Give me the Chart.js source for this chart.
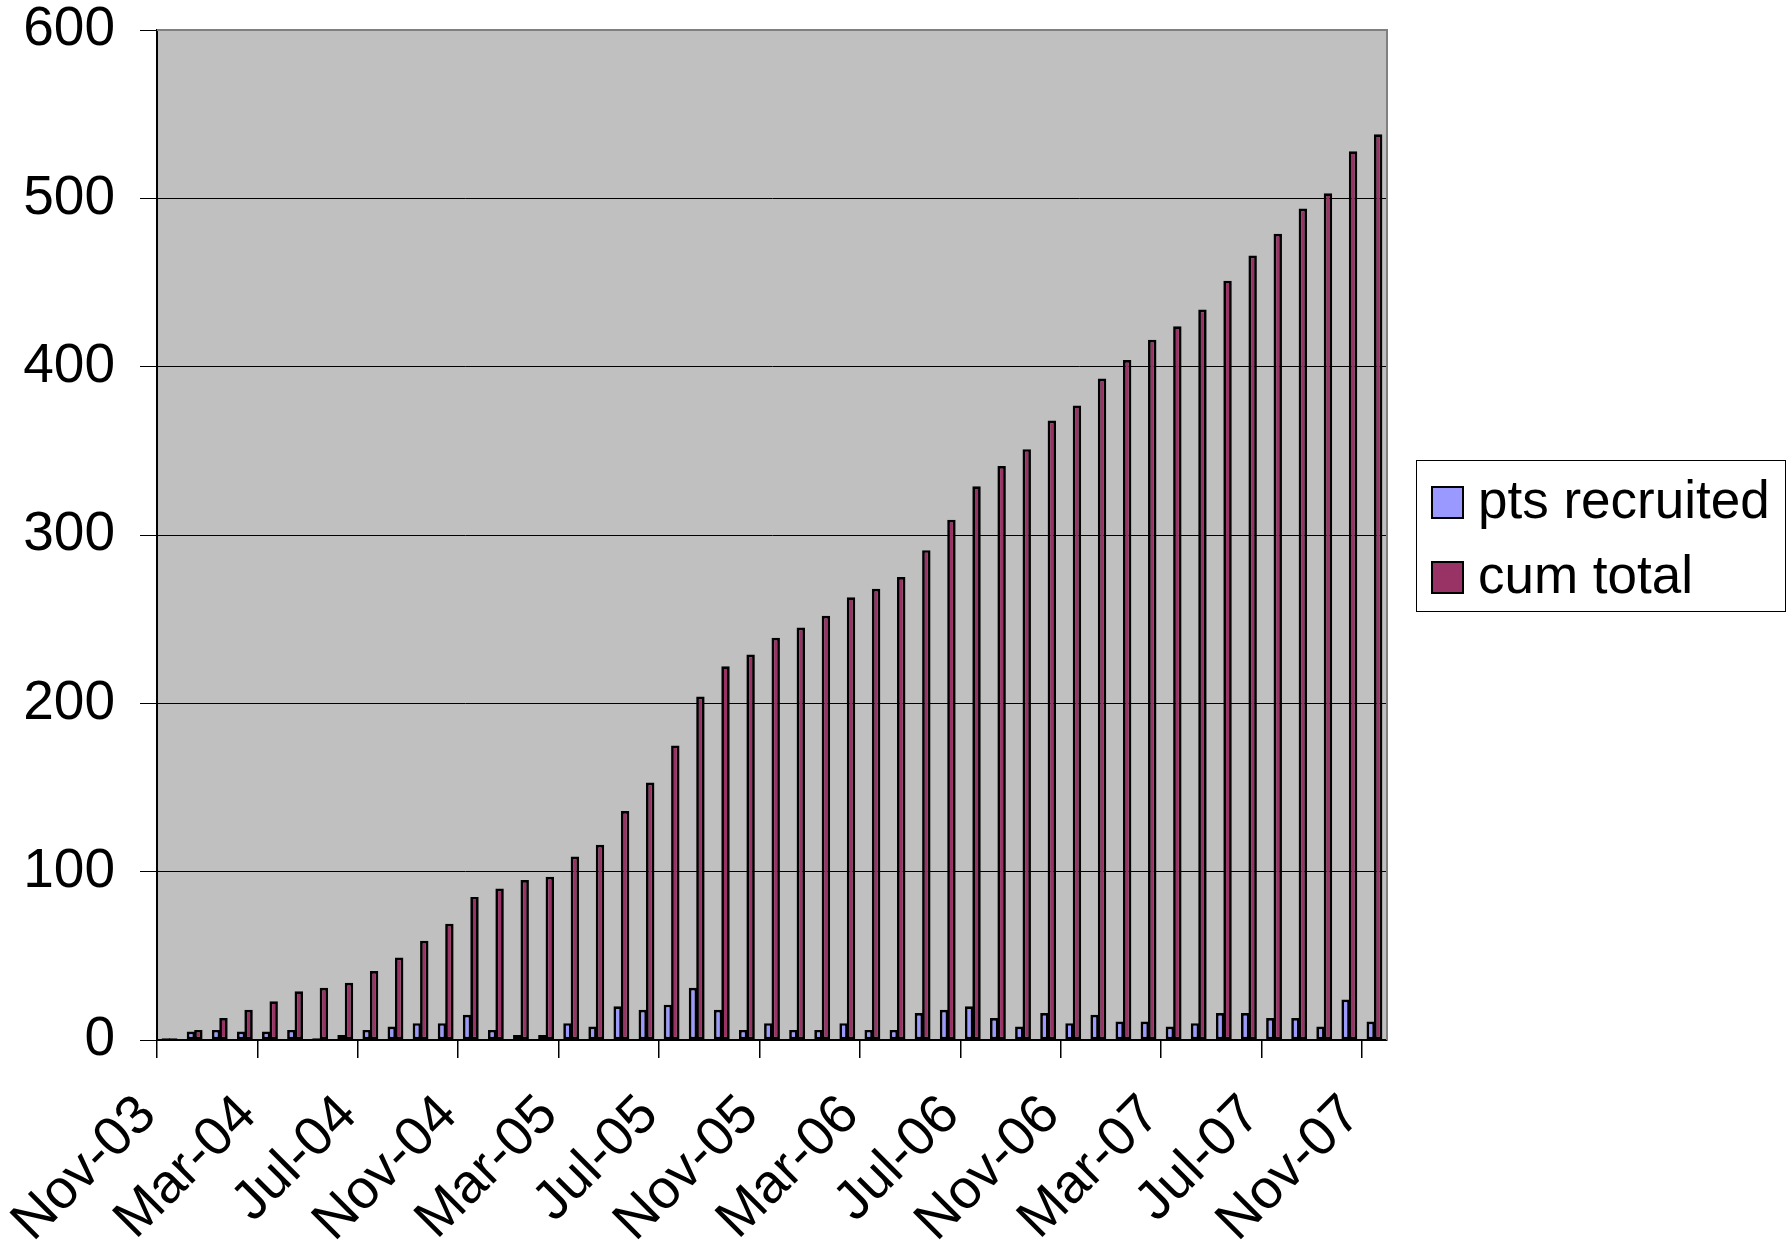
<!DOCTYPE html>
<html>
<head>
<meta charset="utf-8">
<script src="https://cdn.jsdelivr.net/npm/chart.js@4/dist/chart.umd.min.js"></script>
<style>
  html, body { margin: 0; padding: 0; background: #ffffff; }
  #wrap { width: 1788px; height: 1248px; }
</style>
</head>
<body>
<div id="wrap"><canvas id="c" width="1788" height="1248"></canvas></div>
<script>
const categories = ['Nov-03','Dec-03','Jan-04','Feb-04','Mar-04','Apr-04','May-04','Jun-04','Jul-04','Aug-04','Sep-04','Oct-04',
  'Nov-04','Dec-04','Jan-05','Feb-05','Mar-05','Apr-05','May-05','Jun-05','Jul-05','Aug-05','Sep-05','Oct-05',
  'Nov-05','Dec-05','Jan-06','Feb-06','Mar-06','Apr-06','May-06','Jun-06','Jul-06','Aug-06','Sep-06','Oct-06',
  'Nov-06','Dec-06','Jan-07','Feb-07','Mar-07','Apr-07','May-07','Jun-07','Jul-07','Aug-07','Sep-07','Oct-07','Nov-07'];
const ptsRecruited = [1,5,6,5,5,6,1,3,6,8,10,10,15,6,3,3,10,8,20,18,21,31,18,6,10,6,6,10,6,6,16,18,20,13,8,16,10,15,11,11,8,10,16,16,13,13,8,24,11];
const cumTotal = [1,6,13,18,23,29,31,34,41,49,59,69,85,90,95,97,109,116,136,153,175,204,222,229,239,245,252,263,268,275,291,309,329,341,351,368,377,393,404,416,424,434,451,466,479,494,503,528,538];
const seriesNames = ['pts recruited', 'cum total'];
const yTicks = [0, 100, 200, 300, 400, 500, 600];

const FONT = "'Liberation Sans', Arial, sans-serif";

const plotBackground = {
  id: 'plotBackground',
  beforeDraw(chart) {
    const a = chart.chartArea, ctx = chart.ctx;
    ctx.save();
    ctx.fillStyle = '#C0C0C0';
    ctx.fillRect(a.left, a.top, a.right - a.left, a.bottom - a.top);
    ctx.restore();
  },
  afterDraw(chart) {
    const a = chart.chartArea, ctx = chart.ctx;
    ctx.save();
    ctx.strokeStyle = '#808080';
    ctx.lineWidth = 2;
    ctx.beginPath();
    ctx.moveTo(a.left, a.top);
    ctx.lineTo(a.right, a.top);
    ctx.lineTo(a.right, a.bottom);
    ctx.stroke();
    ctx.restore();
  }
};

const boxedLegend = {
  id: 'boxedLegend',
  afterDraw(chart) {
    const ctx = chart.ctx;
    const bx = 1416, by = 460, bw = 369, bh = 151;
    ctx.save();
    ctx.fillStyle = '#ffffff';
    ctx.fillRect(bx, by, bw, bh);
    ctx.strokeStyle = '#000000';
    ctx.lineWidth = 1;
    ctx.strokeRect(bx + 0.5, by + 0.5, bw, bh);
    ctx.font = '53px ' + FONT;
    ctx.textBaseline = 'alphabetic';
    ctx.textAlign = 'left';
    chart.data.datasets.forEach((ds, i) => {
      const top = 487 + i * 75;
      ctx.fillStyle = ds.backgroundColor;
      ctx.fillRect(1432, top, 31, 31);
      ctx.strokeStyle = '#000';
      ctx.lineWidth = 2;
      ctx.strokeRect(1432, top, 31, 31);
      ctx.fillStyle = '#000';
      ctx.fillText(ds.label, 1478, top + 31);
    });
    ctx.restore();
  }
};

new Chart(document.getElementById('c'), {
  type: 'bar',
  data: {
    labels: categories,
    datasets: [
      { label: seriesNames[0], data: ptsRecruited, backgroundColor: '#9999FF', borderColor: '#000000', borderWidth: 2.7, borderSkipped: false },
      { label: seriesNames[1], data: cumTotal, backgroundColor: '#993366', borderColor: '#000000', borderWidth: 2.7, borderSkipped: false }
    ]
  },
  options: {
    responsive: false,
    animation: false,
    devicePixelRatio: 1,
    layout: { padding: { left: 0, top: 30, right: 401, bottom: 0 } },
    datasets: { bar: { categoryPercentage: 0.592, barPercentage: 1.135 } },
    plugins: {
      legend: { display: false },
      tooltip: { enabled: false }
    },
    scales: {
      x: {
        grid: {
          offset: true,
          drawOnChartArea: false,
          drawTicks: true,
          tickLength: 18,
          lineWidth: 1.5,
          color: (ctx) => (ctx.index % 4 === 0 ? '#000000' : 'rgba(0,0,0,0)')
        },
        border: { display: true, color: '#000000', width: 2 },
        ticks: {
          autoSkip: false,
          minRotation: 45,
          maxRotation: 45,
          padding: 25,
          labelOffset: -22,
          color: '#000000',
          font: { family: FONT, size: 55 },
          callback: function (val, idx) { return idx % 4 === 0 ? this.getLabelForValue(val) : ''; }
        },
        afterFit: (s) => { s.height = 208; s.paddingLeft = 0; s.paddingRight = 0; }
      },
      y: {
        min: 0,
        max: 600,
        afterBuildTicks: (s) => { s.ticks = yTicks.map(v => ({ value: v })); },
        grid: { color: '#000000', lineWidth: 1, drawTicks: true, tickLength: 17 },
        border: { display: true, color: '#000000', width: 2 },
        ticks: {
          padding: 25,
          color: '#000000',
          font: { family: FONT, size: 55, lineHeight: 1.0 }
        },
        afterFit: (s) => { s.width = 157; s.paddingTop = 0; s.paddingBottom = 0; }
      }
    }
  },
  plugins: [plotBackground, boxedLegend]
});
</script>
</body>
</html>
